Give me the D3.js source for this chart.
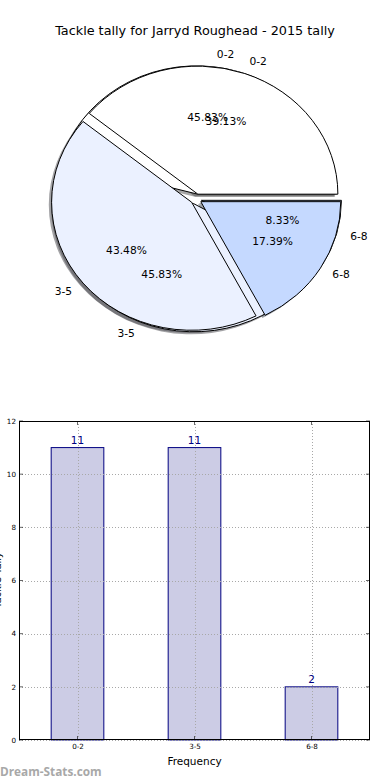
<!DOCTYPE html>
<html>
<head>
<meta charset="utf-8">
<script src="https://cdn.jsdelivr.net/npm/d3@7"></script>
<style>
  html, body { margin: 0; padding: 0; background: #fff; }
  svg { display: block; font-family: "DejaVu Sans", sans-serif; }
</style>
</head>
<body>
<svg id="chart" width="390" height="780"></svg>
<script>
// ---- data ----
const categories = ["0-2", "3-5", "6-8"];
const tallyValues = [11, 11, 2];          // first pie + bar chart
const compareValues = [9, 10, 4];         // second (overlaid) pie
const sliceColors = ["#ffffff", "#ebf1ff", "#c5d9ff"];
const yTicks = [0, 2, 4, 6, 8, 10, 12];
const titleText = "Tackle tally for Jarryd Roughead - 2015 tally";
const xLabel = "Frequency";
const yLabel = "Tackle Tally";
const watermark = "Dream-Stats.com";

const svg = d3.select("#chart");

// ---- title ----
svg.append("text").attr("x", 195).attr("y", 30)
  .attr("text-anchor", "middle").attr("dominant-baseline", "central")
  .attr("font-size", 12.8).attr("fill", "#000").text(titleText);

// ---- pie (elliptical, matplotlib-style) ----
const cx = 196, cy = 199, rx = 140, ry = 128, explode = 0.04;
const px = d3.scaleLinear().domain([-1, 1]).range([cx - rx, cx + rx]);
const py = d3.scaleLinear().domain([-1, 1]).range([cy + ry, cy - ry]);
const pieGen = d3.pie().sort(null).startAngle(Math.PI / 2).endAngle(Math.PI / 2 - 2 * Math.PI);
const arcGen = d3.arc().innerRadius(0).outerRadius(1);

function shade(c) {
  const r = d3.rgb(c);
  return d3.rgb(r.r * 0.3, r.g * 0.3, r.b * 0.3).toString();
}

const pies = [tallyValues, compareValues].map(vals => {
  const total = d3.sum(vals);
  return pieGen(vals).map((d, i) => {
    const m = (d.startAngle + d.endAngle) / 2;
    const ux = Math.sin(m), uy = Math.cos(m); // unit direction, y up
    return { d, i, ux, uy, ox: explode * ux, oy: explode * uy, pct: d.value / total * 100 };
  });
});

const gShadow = svg.append("g");
const gWedge = svg.append("g");
const gText = svg.append("g");

pies.forEach(slices => {
  slices.forEach(s => {
    const tx = px(s.ox - 0.02), ty = py(s.oy - 0.02);
    gShadow.append("path")
      .attr("d", arcGen(s.d))
      .attr("transform", `translate(${tx},${ty}) scale(${rx},${ry})`)
      .attr("fill", shade(sliceColors[s.i])).attr("fill-opacity", 0.5)
      .attr("stroke", "none");
  });
});

pies.forEach(slices => {
  slices.forEach(s => {
    const tx = px(s.ox), ty = py(s.oy);
    gWedge.append("path")
      .attr("d", arcGen(s.d))
      .attr("transform", `translate(${tx},${ty}) scale(${rx},${ry})`)
      .attr("fill", sliceColors[s.i])
      .attr("stroke", "#000").attr("stroke-width", 1)
      .attr("vector-effect", "non-scaling-stroke")
      .attr("stroke-linejoin", "miter");
  });
});

pies.forEach(slices => {
  slices.forEach(s => {
    const lx = s.ox + 1.1 * s.ux, ly = s.oy + 1.1 * s.uy;
    gText.append("text")
      .attr("x", px(lx)).attr("y", py(ly))
      .attr("text-anchor", lx > 0 ? "start" : "end")
      .attr("dominant-baseline", "central")
      .attr("font-size", 10.7).attr("fill", "#000")
      .text(categories[s.i]);
    const qx = s.ox + 0.6 * s.ux, qy = s.oy + 0.6 * s.uy;
    gText.append("text")
      .attr("x", px(qx)).attr("y", py(qy))
      .attr("text-anchor", "middle")
      .attr("dominant-baseline", "central")
      .attr("font-size", 10.7).attr("fill", "#000")
      .text(s.pct.toFixed(2) + "%");
  });
});

// ---- bar chart ----
const L = 19, R = 370, T = 421, B = 740;
const x = d3.scaleLinear().domain([-0.5, 2.5]).range([L, R]);
const y = d3.scaleLinear().domain([0, 12]).range([B, T]);
const barW = 0.45;

const gBar = svg.append("g");
gBar.selectAll("rect.bar").data(tallyValues).enter().append("rect")
  .attr("class", "bar")
  .attr("x", (d, i) => x(i - barW / 2))
  .attr("width", (d, i) => x(i + barW / 2) - x(i - barW / 2))
  .attr("y", d => y(d))
  .attr("height", d => y(0) - y(d))
  .attr("fill", "#ccccE5").attr("stroke", "#000080").attr("stroke-width", 1);

// grid (drawn over bars)
const gGrid = svg.append("g").attr("stroke", "#a8a8a8").attr("stroke-width", 1)
  .attr("stroke-dasharray", "1,2");
yTicks.forEach(t => {
  gGrid.append("line").attr("x1", L).attr("x2", R)
    .attr("y1", Math.round(y(t)) + 0.5).attr("y2", Math.round(y(t)) + 0.5);
});
categories.forEach((c, i) => {
  gGrid.append("line").attr("y1", T).attr("y2", B)
    .attr("x1", Math.round(x(i)) + 0.5).attr("x2", Math.round(x(i)) + 0.5);
});

// axes frame
svg.append("rect").attr("x", L + 0.5).attr("y", T + 0.5)
  .attr("width", R - L - 1).attr("height", B - T - 1)
  .attr("fill", "none").attr("stroke", "#000").attr("stroke-width", 1);

// ticks (inward, all sides)
const gTicks = svg.append("g").attr("stroke", "#000").attr("stroke-width", 0.6);
yTicks.forEach(t => {
  const yy = y(t);
  gTicks.append("line").attr("x1", L).attr("x2", L + 4).attr("y1", yy).attr("y2", yy);
  gTicks.append("line").attr("x1", R - 4).attr("x2", R).attr("y1", yy).attr("y2", yy);
});
categories.forEach((c, i) => {
  const xx = x(i);
  gTicks.append("line").attr("x1", xx).attr("x2", xx).attr("y1", B).attr("y2", B - 4);
  gTicks.append("line").attr("x1", xx).attr("x2", xx).attr("y1", T).attr("y2", T + 4);
});

// y tick labels
const yAxisG = svg.append("g").attr("transform", `translate(${L},0)`)
  .call(d3.axisLeft(y).tickValues(yTicks).tickSize(0).tickPadding(3).tickFormat(d3.format("d")));
yAxisG.select(".domain").remove();
yAxisG.selectAll("text").attr("font-size", 7.2).attr("font-family", "DejaVu Sans").attr("fill", "#000");

// x tick labels
const xAxisG = svg.append("g").attr("transform", `translate(0,${B})`)
  .call(d3.axisBottom(x).tickValues([0, 1, 2]).tickSize(0).tickPadding(4).tickFormat(i => categories[i]));
xAxisG.select(".domain").remove();
xAxisG.selectAll("text").attr("font-size", 7.2).attr("font-family", "DejaVu Sans").attr("fill", "#000");

// value labels
svg.selectAll("text.val").data(tallyValues).enter().append("text")
  .attr("class", "val")
  .attr("x", (d, i) => x(i)).attr("y", d => y(d) - 4)
  .attr("text-anchor", "middle")
  .attr("font-size", 10.5).attr("fill", "#000080")
  .text(d => d);

// axis labels
svg.append("text").attr("x", x(1)).attr("y", 761)
  .attr("text-anchor", "middle").attr("dominant-baseline", "central")
  .attr("font-size", 10.5).attr("fill", "#000").text(xLabel);
svg.append("text").attr("transform", `translate(1,580) rotate(-90)`)
  .attr("text-anchor", "middle")
  .attr("font-size", 10).attr("fill", "#000").text(yLabel);

// watermark
svg.append("text").attr("x", 0).attr("y", 771)
  .attr("dominant-baseline", "central")
  .attr("font-size", 11.8).attr("fill", "#a8a8a8").attr("font-weight", "bold")
  .attr("font-family", "Open Sans, DejaVu Sans, sans-serif")
  .text(watermark);
</script>
</body>
</html>
